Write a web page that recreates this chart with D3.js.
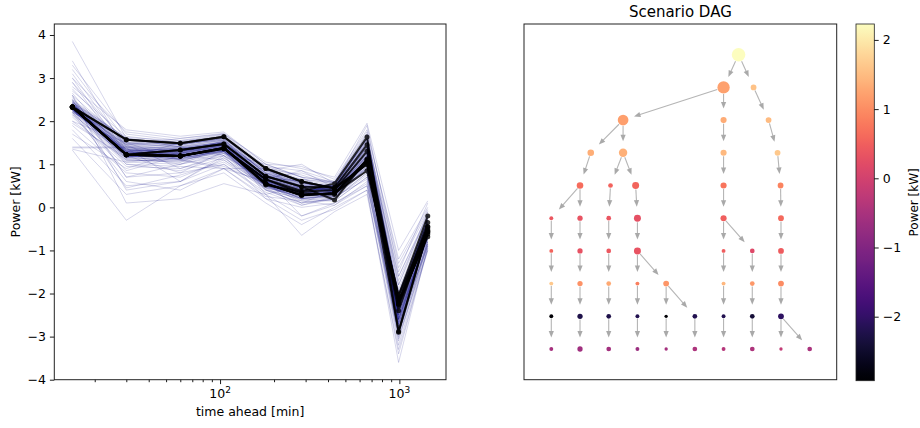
<!DOCTYPE html>
<html>
<head>
<meta charset="utf-8">
<script src="https://cdn.jsdelivr.net/npm/d3@7"></script>
<style>
  html, body { margin: 0; padding: 0; background: #fff; }
  svg { display: block; font-family: "DejaVu Sans", sans-serif; }
</style>
</head>
<body>
<svg id="chart" width="920" height="428"></svg>
<script>
// ---- data -------------------------------------------------------------
// forecast horizons (minutes ahead)
const timeAhead = [15, 30, 60, 105, 180, 285, 435, 660, 990, 1440];

// scenario tree: power value of every node, one list per horizon
const nodeValues = [
  [2.33],
  [1.22, 1.57],
  [1.19, 1.33, 1.49],
  [1.36, 1.38, 1.47, 1.64],
  [0.65, 0.52, 0.55, 0.72, 0.90],
  [0.38, 0.32, 0.36, 0.28, 0.48, 0.60],
  [0.55, 0.30, 0.40, 0.33, 0.46, 0.17, 0.44],
  [1.63, 1.05, 1.30, 0.85, 1.10, 1.45, 1.12, 1.00],
  [-2.90, -2.25, -2.25, -2.20, -2.88, -2.20, -2.20, -2.40, -2.05],
  [-0.55, -0.62, -0.58, -0.68, -0.55, -0.45, -0.35, -0.45, -0.20, -0.50]
];
// index of each node's parent in the previous horizon
const nodeParents = [
  [null],
  [0, 0],
  [0, 0, 1],
  [0, 0, 1, 2],
  [0, 1, 1, 2, 3],
  [0, 0, 1, 2, 3, 4],
  [0, 1, 2, 3, 4, 4, 5],
  [0, 1, 2, 3, 3, 4, 5, 6],
  [0, 1, 2, 3, 4, 4, 5, 6, 7],
  [0, 1, 2, 3, 4, 5, 6, 7, 8, 8]
];
// probability of each final scenario
const leafProbabilities = [0.083, 0.15, 0.12, 0.083, 0.06, 0.12, 0.083, 0.12, 0.06, 0.12];

// ensemble of sampled forecast traces (values at each horizon)
const sampleTraces = [
  [2.35, 1.25, 1.20, 1.35, 0.62, 0.35, 0.52, 1.55, -2.75, -0.55],
  [2.30, 1.22, 1.18, 1.33, 0.58, 0.30, 0.35, 1.05, -2.30, -0.60],
  [2.40, 1.58, 1.47, 1.62, 0.88, 0.58, 0.45, 1.05, -2.10, -0.25],
  [2.28, 1.30, 1.35, 1.48, 0.70, 0.50, 0.44, 1.40, -2.15, -0.35],
  [2.42, 1.20, 1.15, 1.30, 0.50, 0.28, 0.32, 0.90, -2.20, -0.62],
  [2.25, 1.35, 1.25, 1.40, 0.55, 0.40, 0.40, 1.25, -2.40, -0.50],
  [2.38, 1.45, 1.40, 1.55, 0.80, 0.55, 0.50, 1.20, -2.05, -0.40],
  [2.32, 1.15, 1.10, 1.28, 0.45, 0.25, 0.30, 1.00, -2.50, -0.65],
  [2.36, 1.28, 1.22, 1.38, 0.66, 0.38, 0.48, 1.60, -2.85, -0.58],
  [2.22, 1.40, 1.30, 1.45, 0.75, 0.45, 0.20, 1.15, -2.25, -0.45],
  [2.45, 1.50, 1.45, 1.60, 0.85, 0.62, 0.46, 1.50, -2.20, -0.48],
  [2.30, 1.18, 1.25, 1.42, 0.60, 0.32, 0.38, 1.10, -2.60, -0.70],
  [2.27, 1.10, 1.05, 1.25, 0.52, 0.20, 0.28, 0.85, -2.35, -0.55],
  [2.40, 1.38, 1.32, 1.50, 0.68, 0.42, 0.42, 1.30, -2.00, -0.30],
  [2.33, 1.24, 1.20, 1.36, 0.56, 0.34, 0.35, 1.12, -2.45, -0.52],
  [2.20, 1.05, 1.15, 1.30, 0.48, 0.22, 0.25, 0.95, -1.95, -0.42],
  [2.48, 1.55, 1.52, 1.68, 0.92, 0.65, 0.55, 1.70, -2.30, -0.20],
  [2.35, 1.32, 1.28, 1.45, 0.64, 0.48, 0.50, 1.35, -2.70, -0.62],
  [2.30, 1.45, 1.35, 1.50, 0.72, 0.52, 0.38, 1.18, -2.15, -0.38],
  [2.38, 1.20, 1.12, 1.32, 0.55, 0.30, 0.45, 1.45, -2.55, -0.66],
  [2.26, 1.28, 1.30, 1.40, 0.60, 0.36, 0.32, 1.02, -2.90, -0.58],
  [2.43, 1.62, 1.55, 1.70, 0.95, 0.70, 0.58, 1.58, -2.10, -0.28],
  [2.31, 1.12, 1.08, 1.30, 0.42, 0.18, 0.22, 0.88, -2.40, -0.74],
  [2.36, 1.36, 1.25, 1.44, 0.66, 0.44, 0.40, 1.22, -2.25, -0.48],
  [2.24, 1.25, 1.35, 1.52, 0.76, 0.50, 0.48, 1.38, -2.05, -0.36],
  [2.40, 1.30, 1.18, 1.36, 0.58, 0.28, 0.30, 1.08, -2.65, -0.62],
  [3.85, 1.60, 1.40, 1.50, 0.80, 0.50, 0.40, 1.30, -2.20, -0.40],
  [3.30, 1.70, 1.55, 1.62, 0.95, 0.85, 0.60, 1.70, -1.80, -0.10],
  [3.20, 1.55, 1.50, 1.55, 0.70, 0.60, 0.45, 1.20, -2.40, -0.50],
  [3.10, 1.40, 1.30, 1.45, 0.85, 1.00, 0.55, 1.90, -1.50, 0.10],
  [3.00, 1.75, 1.60, 1.72, 1.00, 0.70, 0.60, 1.50, -2.00, -0.30],
  [2.90, 1.50, 1.45, 1.60, 0.90, 0.75, 0.52, 1.60, -1.70, -0.20],
  [2.70, 1.65, 1.50, 1.65, 0.75, 0.55, 0.48, 1.35, -2.60, -0.60],
  [1.90, 0.80, 0.70, 1.10, 0.40, 0.10, 0.20, 0.80, -2.80, -0.80],
  [1.80, 0.50, 0.60, 1.00, 0.30, -0.20, 0.05, 0.60, -3.20, -0.95],
  [1.60, 0.30, 0.50, 0.90, 0.20, 0.00, 0.10, 0.50, -3.00, -1.00],
  [1.40, 1.40, 1.20, 1.30, 0.50, 0.20, 0.30, 0.90, -2.50, -0.70],
  [1.38, 1.38, 0.60, 1.15, 0.45, 0.30, 0.25, 1.00, -2.30, -0.65],
  [1.35, 1.05, 1.00, 1.20, 0.60, 0.40, 0.35, 1.10, -2.70, -0.75],
  [1.33, -0.30, 0.50, 0.80, 0.10, -0.40, 0.00, 0.40, -3.60, -0.90],
  [2.60, 0.10, 0.20, 0.55, 0.30, -0.65, -0.10, 0.30, -3.30, -1.00],
  [2.20, 0.60, 0.40, 0.90, 0.25, 0.15, 0.15, 0.70, -3.10, -0.85],
  [2.50, 0.70, 0.80, 1.00, 0.35, 0.05, 0.20, 0.75, -2.95, -0.80],
  [2.10, 0.95, 0.90, 1.20, 0.50, 0.25, 0.35, 0.95, -2.60, -0.72],
  [2.55, 1.00, 0.95, 0.90, 0.60, 0.45, 0.40, 1.10, -2.20, -0.50],
  [2.00, 1.10, 1.05, 1.40, 0.70, 0.80, 0.55, 1.45, -1.90, -0.30],
  [2.80, 1.80, 1.65, 1.75, 1.00, 0.95, 0.65, 1.80, -1.30, -0.05],
  [2.65, 1.20, 1.25, 1.55, 0.80, 0.65, 0.58, 1.65, -1.60, -0.15],
  [2.15, 0.85, 1.20, 1.35, 0.65, 0.35, 0.40, 1.15, -2.35, -0.55],
  [2.45, 1.35, 1.10, 0.95, 0.55, 0.20, 0.15, 0.70, -2.80, -0.85],
  [2.30, 0.45, 0.75, 1.05, 0.45, 0.05, 0.25, 0.85, -3.05, -0.88],
  [2.35, 1.45, 1.60, 1.70, 1.05, 0.90, 0.70, 1.95, -1.00, 0.15],
  [2.25, 1.30, 1.40, 1.30, 0.65, -0.20, 0.10, 0.55, -2.90, -0.80],
  [2.40, 1.15, 1.30, 1.50, 0.85, 0.55, 0.50, 1.55, -1.80, -0.25],
  [2.50, 1.60, 1.45, 1.58, 0.78, 0.58, 0.42, 1.25, -2.30, -0.45],
  [2.15, 1.20, 1.00, 1.25, 0.40, 0.10, 0.20, 0.80, -2.75, -0.78],
  [2.60, 1.50, 1.38, 1.52, 0.72, 0.48, 0.44, 1.40, -2.10, -0.35],
  [2.20, 1.00, 0.85, 1.15, 0.50, 0.30, 0.30, 1.00, -2.50, -0.68],
  [2.38, 1.42, 1.35, 1.48, 0.70, 0.45, 0.36, 1.28, -2.45, -0.50],
  [2.28, 1.18, 1.22, 1.40, 0.62, 0.40, 0.42, 1.18, -2.20, -0.45],
  [2.34, 1.26, 1.22, 1.38, 0.60, 0.33, 0.40, 1.15, -2.35, -0.55],
  [2.29, 1.20, 1.16, 1.34, 0.54, 0.29, 0.34, 1.02, -2.55, -0.60],
  [2.37, 1.33, 1.27, 1.43, 0.65, 0.40, 0.43, 1.25, -2.28, -0.48],
  [2.41, 1.52, 1.46, 1.60, 0.84, 0.58, 0.48, 1.45, -2.12, -0.33],
  [2.27, 1.23, 1.19, 1.37, 0.57, 0.31, 0.36, 1.08, -2.62, -0.63],
  [2.33, 1.29, 1.24, 1.41, 0.63, 0.37, 0.41, 1.20, -2.32, -0.52],
  [2.39, 1.42, 1.36, 1.52, 0.74, 0.49, 0.45, 1.32, -2.18, -0.42],
  [2.31, 1.19, 1.14, 1.31, 0.53, 0.27, 0.31, 0.98, -2.70, -0.66],
  [2.44, 1.56, 1.48, 1.64, 0.87, 0.60, 0.47, 1.52, -2.08, -0.30],
  [2.26, 1.16, 1.21, 1.39, 0.59, 0.34, 0.38, 1.12, -2.48, -0.58],
  [2.35, 1.31, 1.29, 1.46, 0.68, 0.43, 0.44, 1.28, -2.22, -0.46],
  [2.30, 1.27, 1.23, 1.36, 0.56, 0.26, 0.33, 1.04, -2.78, -0.61],
  [2.36, 1.21, 1.17, 1.33, 0.51, 0.30, 0.37, 1.10, -2.58, -0.57],
  [2.42, 1.47, 1.42, 1.57, 0.82, 0.56, 0.46, 1.42, -2.16, -0.37],
  [2.28, 1.34, 1.30, 1.47, 0.69, 0.46, 0.47, 1.36, -2.30, -0.49],
  [2.32, 1.24, 1.26, 1.42, 0.61, 0.35, 0.39, 1.16, -2.40, -0.54],
  [2.38, 1.37, 1.33, 1.49, 0.71, 0.47, 0.43, 1.30, -2.26, -0.44],
  [2.25, 1.14, 1.12, 1.29, 0.49, 0.24, 0.29, 0.94, -2.66, -0.67],
  [2.46, 1.59, 1.50, 1.66, 0.89, 0.63, 0.51, 1.62, -2.02, -0.27],
  [2.34, 1.27, 1.21, 1.37, 0.59, 0.32, 0.36, 1.06, -2.85, -0.59],
  [2.30, 1.22, 1.24, 1.40, 0.62, 0.39, 0.45, 1.40, -2.52, -0.53],
  [2.37, 1.40, 1.37, 1.53, 0.77, 0.51, 0.49, 1.48, -2.14, -0.39],
  [2.29, 1.30, 1.26, 1.44, 0.64, 0.41, 0.40, 1.18, -2.36, -0.50],
  [2.40, 1.25, 1.19, 1.35, 0.57, 0.33, 0.50, 1.58, -2.88, -0.56],
  [2.33, 1.35, 1.31, 1.45, 0.67, 0.42, 0.38, 1.14, -2.24, -0.47],
  [2.23, 1.08, 1.10, 1.27, 0.47, 0.21, 0.27, 0.92, -2.42, -0.64],
  [2.39, 1.48, 1.41, 1.56, 0.79, 0.53, 0.44, 1.34, -2.18, -0.41],
  [2.31, 1.26, 1.28, 1.43, 0.63, 0.36, 0.18, 1.10, -2.30, -0.46],
  [2.36, 1.19, 1.13, 1.32, 0.52, 0.28, 0.33, 1.00, -2.60, -0.62],
  [2.27, 1.32, 1.34, 1.50, 0.73, 0.48, 0.42, 1.26, -2.20, -0.43],
  [2.90, 1.20, 0.80, 1.30, 0.70, 0.60, 0.30, 0.90, -2.00, -0.40],
  [2.00, 1.50, 1.10, 0.90, 0.90, 0.40, 0.50, 1.60, -1.40, -0.10],
  [3.40, 1.30, 1.20, 1.10, 0.50, 0.15, 0.05, 0.50, -2.70, -0.90],
  [1.70, 0.90, 1.30, 1.50, 0.30, 0.50, 0.35, 1.20, -2.10, -0.50],
  [2.60, 0.70, 1.00, 1.40, 0.75, 0.25, 0.60, 1.75, -1.20, 0.00],
  [2.20, 1.60, 1.40, 1.20, 0.20, -0.30, -0.05, 0.40, -3.40, -0.95],
  [2.75, 1.45, 0.90, 1.25, 1.00, 0.70, 0.30, 1.10, -2.30, -0.55],
  [1.95, 1.15, 1.50, 1.60, 0.55, 0.10, 0.40, 1.30, -2.60, -0.70],
  [2.50, 0.40, 0.60, 1.20, 0.65, 0.85, 0.45, 1.50, -1.60, -0.20],
  [3.00, 1.25, 1.35, 1.45, 0.40, 0.20, 0.25, 0.65, -2.95, -0.85]
];

const powerTicks = [-4, -3, -2, -1, 0, 1, 2, 3, 4];
const timeMajorTicks = [100, 1000];
const timeMinorTicks = [20, 30, 40, 50, 60, 70, 80, 90, 200, 300, 400, 500, 600, 700, 800, 900];
const colorbarTicks = [-2, -1, 0, 1, 2];
const colorbarRange = [-2.925, 2.23];

// ---- helpers ------------------------------------------------------------
const FONT = 12.5;
const fmtMinus = d => (d < 0 ? "\u2212" + Math.abs(d) : String(d));
const svg = d3.select("#chart");
svg.append("rect").attr("width", 920).attr("height", 428).attr("fill", "#fff");

// ---- scenario tree ----------------------------------------------------------
const byLevel = nodeValues.map((vals, level) =>
  vals.map((value, index) => ({ level, index, value, parent: null, children: [] })));
byLevel.forEach((row, l) => row.forEach((n, i) => {
  if (l > 0) {
    const p = byLevel[l - 1][nodeParents[l][i]];
    n.parent = p;
    p.children.push(n);
  }
}));
const nodes = byLevel.flat();
const lastLevel = byLevel.length - 1;
const leaves = byLevel[lastLevel];
leaves.forEach((n, i) => { n.prob = leafProbabilities[i]; n.slot = i; });
for (let l = lastLevel - 1; l >= 0; l--) {
  byLevel[l].forEach(n => {
    n.prob = d3.sum(n.children, c => c.prob);
    n.slot = d3.mean(n.children, c => c.slot);
  });
}
// nearest ancestor that branches (or the root)
const branchAncestor = n => {
  let a = n.parent;
  while (a.parent && a.children.length === 1) a = a.parent;
  return a;
};
// layered layout: leaves sit in order; a branching node sits above the child
// nearest to its branching ancestor (a node hanging off a straight chain keeps
// the chain straight, otherwise it is centred); chains lean toward their child
// with a parent pull that fades with depth
for (let it = 0; it < 400; it++) {
  for (let l = 0; l < lastLevel; l++) {
    byLevel[l].forEach(n => {
      const cs = n.children.map(c => c.slot);
      if (!n.parent) n.slot = d3.mean(cs);
      else if (cs.length === 1) {
        const w = Math.max(0, 0.5 * (1 - (l - 1) / 4));
        n.slot = w * n.parent.slot + (1 - w) * cs[0];
      } else {
        const a = branchAncestor(n).slot, lo = d3.min(cs), hi = d3.max(cs);
        const onChain = n.parent.parent && n.parent.children.length === 1;
        n.slot = a <= lo + 1e-6 ? lo : a >= hi - 1e-6 ? hi : onChain ? lo : d3.mean(cs);
      }
    });
  }
}

// scenario paths from root to each leaf
const scenarioPaths = leaves.map(leaf => {
  const path = [];
  for (let n = leaf; n; n = n.parent) path.unshift(n);
  return path;
});

const color = d3.scaleSequential(d3.interpolateMagma).domain(colorbarRange);

// ---- left panel: forecast ensemble --------------------------------------------
const L = { x0: 54.3, x1: 446, y0: 24, y1: 379.7 };
const x = d3.scaleLog().domain([11.9, 1820]).range([L.x0, L.x1]);
const y = d3.scaleLinear().domain([-4, 4.255]).range([L.y1, L.y0]);

const defs = svg.append("defs");
defs.append("clipPath").attr("id", "clipL")
  .append("rect").attr("x", L.x0).attr("y", L.y0)
  .attr("width", L.x1 - L.x0).attr("height", L.y1 - L.y0);

const gL = svg.append("g").attr("clip-path", "url(#clipL)");
const line = d3.line().x((d, i) => x(timeAhead[i])).y(d => y(d));

gL.selectAll("path.sample").data(sampleTraces).join("path")
  .attr("class", "sample")
  .attr("d", line)
  .attr("fill", "none")
  .attr("stroke", "#000080")
  .attr("stroke-opacity", 0.16)
  .attr("stroke-width", 1);

const scenLine = d3.line().x(n => x(timeAhead[n.level])).y(n => y(n.value));
const gS = gL.selectAll("g.scen").data(scenarioPaths).join("g").attr("class", "scen")
  .attr("opacity", 0.8);
gS.append("path")
  .attr("d", scenLine)
  .attr("fill", "none")
  .attr("stroke", "#000")
  .attr("stroke-width", 2)
  .attr("stroke-linejoin", "round");
gS.selectAll("circle").data(d => d).join("circle")
  .attr("cx", n => x(timeAhead[n.level]))
  .attr("cy", n => y(n.value))
  .attr("r", 2.5)
  .attr("fill", "#000");

// y axis
const yAxis = svg.append("g").attr("transform", `translate(${L.x0},0)`)
  .call(d3.axisLeft(y).tickValues(powerTicks).tickFormat(fmtMinus).tickSize(4.4).tickPadding(4));
// x axis major + minor ticks
svg.append("g").attr("transform", `translate(0,${L.y1})`)
  .call(d3.axisBottom(x).tickValues(timeMajorTicks).tickFormat("").tickSize(4.4));
svg.append("g").attr("transform", `translate(0,${L.y1})`)
  .call(d3.axisBottom(x).tickValues(timeMinorTicks).tickFormat("").tickSize(2.5));
yAxis.selectAll("text").attr("font-size", FONT)
  .attr("font-family", "DejaVu Sans").attr("fill", "#000");
svg.selectAll(".domain").remove();
svg.selectAll(".tick line").attr("stroke", "#000").attr("stroke-width", 0.9);

// powers of ten labels
const tl = svg.append("g").selectAll("text").data(timeMajorTicks).join("text")
  .attr("x", d => x(d)).attr("y", 398)
  .attr("text-anchor", "middle")
  .attr("font-size", FONT);
tl.append("tspan").text("10");
tl.append("tspan").attr("dy", -5).attr("font-size", 9).text(d => Math.round(Math.log10(d)));

svg.append("text").attr("x", (L.x0 + L.x1) / 2).attr("y", 416)
  .attr("text-anchor", "middle").attr("font-size", FONT).text("time ahead [min]");
svg.append("text")
  .attr("transform", `translate(15,${(L.y0 + L.y1) / 2}) rotate(-90)`)
  .attr("text-anchor", "middle").attr("dominant-baseline", "central")
  .attr("font-size", FONT).text("Power [kW]");

svg.append("rect").attr("x", L.x0).attr("y", L.y0)
  .attr("width", L.x1 - L.x0).attr("height", L.y1 - L.y0)
  .attr("fill", "none").attr("stroke", "#222").attr("stroke-width", 1);

// ---- right panel: scenario DAG ---------------------------------------------
const R = { x0: 524, x1: 836.7, y0: 24, y1: 379.7 };
const sx = d3.scaleLinear().domain([0, leaves.length - 1]).range([551.3, 809.7]);
const sy = d3.scaleLinear().domain([0, lastLevel]).range([54.7, 349]);
const rScale = d3.scaleSqrt().domain([0, 1]).range([0, 6.8]);

svg.append("rect").attr("x", R.x0).attr("y", R.y0)
  .attr("width", R.x1 - R.x0).attr("height", R.y1 - R.y0)
  .attr("fill", "none").attr("stroke", "#222").attr("stroke-width", 1);

svg.append("text").attr("x", (R.x0 + R.x1) / 2).attr("y", 17)
  .attr("text-anchor", "middle").attr("font-size", 15).text("Scenario DAG");

const edges = nodes.filter(n => n.parent).map(n => ({ s: n.parent, t: n }));
const gE = svg.append("g");
edges.forEach(e => {
  const x1 = sx(e.s.slot), y1 = sy(e.s.level);
  const x2 = sx(e.t.slot), y2 = sy(e.t.level);
  const dx = x2 - x1, dy = y2 - y1, len = Math.hypot(dx, dy);
  const ux = dx / len, uy = dy / len;
  const start = rScale(e.s.prob) + 0.5;
  const tipGap = 11.5, headLen = 6.5, headW = 2.6;
  const sxp = x1 + ux * start, syp = y1 + uy * start;
  const tx = x2 - ux * tipGap, ty = y2 - uy * tipGap;
  const bx = tx - ux * headLen, by = ty - uy * headLen;
  gE.append("line")
    .attr("x1", sxp).attr("y1", syp).attr("x2", bx + ux).attr("y2", by + uy)
    .attr("stroke", "#b5b5b5").attr("stroke-width", 1.1);
  gE.append("path")
    .attr("d", `M${tx},${ty}L${bx - uy * headW},${by + ux * headW}L${bx + uy * headW},${by - ux * headW}Z`)
    .attr("fill", "#a9a9a9");
});

svg.append("g").selectAll("circle").data(nodes).join("circle")
  .attr("cx", n => sx(n.slot))
  .attr("cy", n => sy(n.level))
  .attr("r", n => rScale(n.prob))
  .attr("fill", n => color(n.value));

// ---- colorbar ------------------------------------------------------------------
const C = { x0: 856, x1: 874.3, y0: 24, y1: 380.7 };
const cy = d3.scaleLinear().domain(colorbarRange).range([C.y1, C.y0]);
const grad = defs.append("linearGradient").attr("id", "cbar")
  .attr("x1", 0).attr("y1", 1).attr("x2", 0).attr("y2", 0);
d3.range(0, 1.0001, 0.02).forEach(t => {
  grad.append("stop").attr("offset", t)
    .attr("stop-color", color(colorbarRange[0] + t * (colorbarRange[1] - colorbarRange[0])));
});
svg.append("rect").attr("x", C.x0).attr("y", C.y0)
  .attr("width", C.x1 - C.x0).attr("height", C.y1 - C.y0)
  .attr("fill", "url(#cbar)").attr("stroke", "#222").attr("stroke-width", 0.8);
const cAxis = svg.append("g").attr("transform", `translate(${C.x1},0)`)
  .call(d3.axisRight(cy).tickValues(colorbarTicks).tickFormat(fmtMinus).tickSize(4.4).tickPadding(4));
cAxis.select(".domain").remove();
cAxis.selectAll("text").attr("font-size", FONT).attr("font-family", "DejaVu Sans").attr("fill", "#000");
cAxis.selectAll(".tick line").attr("stroke", "#000").attr("stroke-width", 0.9);
svg.append("text")
  .attr("transform", `translate(913.5,${(C.y0 + C.y1) / 2}) rotate(-90)`)
  .attr("text-anchor", "middle").attr("dominant-baseline", "central")
  .attr("font-size", 12).text("Power [kW]");
</script>
</body>
</html>
